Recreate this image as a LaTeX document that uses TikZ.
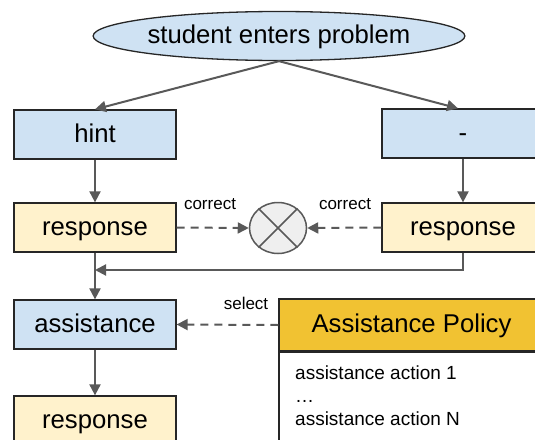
\documentclass[tikz,border=0pt]{standalone}
\usepackage{fontspec}
\setmainfont{Liberation Sans}
\usetikzlibrary{shapes.geometric,arrows.meta,calc}
\definecolor{boxblue}{HTML}{CFE2F3}
\definecolor{boxyellow}{HTML}{FFF2CC}
\definecolor{policygold}{HTML}{F1C232}
\definecolor{linegray}{HTML}{595959}
\definecolor{opfill}{HTML}{EFEFEF}
\tikzset{
  big/.style={font=\fontsize{25.7}{30}\selectfont, text height=20pt, text depth=5pt},
  small/.style={font=\fontsize{17}{20}\selectfont},
  stepbox/.style={draw=black!85, line width=1.3pt, rectangle, big,
    minimum width=162pt, minimum height=49pt, inner sep=0pt},
  bluebox/.style={stepbox, fill=boxblue},
  yellowbox/.style={stepbox, fill=boxyellow},
  flow/.style={draw=linegray, line width=2pt,
    -{Triangle[length=11pt,width=11pt]}},
  dashflow/.style={flow, dash pattern=on 8pt off 6pt},
}
\begin{document}
\begin{tikzpicture}[x=1pt,y=-1pt]
\clip (0,0) rectangle (535,439);
\fill[white] (0,0) rectangle (535,439);

% start of the episode
\node[ellipse, draw=black!85, line width=1.3pt, fill=boxblue, big,
  minimum width=370pt, minimum height=49pt, inner sep=0pt]
  (start) at (279,36) {student enters problem};

% two branches
\node[bluebox] (hint) at (95,134.5) {hint};
\node[bluebox] (none) at (463,133.5) {-};
\node[yellowbox] (resp1) at (95,227.5) {response};
\node[yellowbox] (resp2) at (463,227.5) {response};

% comparison of the two responses
\node[ellipse, draw=linegray, line width=1.5pt, fill=opfill,
  minimum width=57pt, minimum height=51pt, inner sep=0pt]
  (cmp) at (278,228) {};
\draw[linegray, line width=1.5pt] (cmp.45) -- (cmp.225) (cmp.135) -- (cmp.315);

% assistance step
\node[bluebox] (assist) at (95,324.5) {assistance};
\node[yellowbox] (resp3) at (95,420.5) {response};

% policy table
\node[draw=black!85, line width=1.3pt, fill=policygold, big,
  minimum width=265pt, minimum height=52pt, inner sep=0pt]
  (policy) at (411.5,325) {Assistance Policy};
\node[draw=black!85, line width=1.3pt, fill=white,
  minimum width=265pt, minimum height=110pt, inner sep=0pt, anchor=north]
  (pbox) at (policy.south) {};
\node[anchor=north west, align=left, inner sep=0pt,
  font=\fontsize{19}{22.8}\selectfont]
  (pbody) at (295,365.5) {assistance action 1\\…\\assistance action N};

% connectors
\draw[flow] (start.south) -- (hint.north);
\draw[flow] (start.south) -- ($(none.north)+(-5,0)$);
\draw[flow] (hint.south) -- (resp1.north);
\draw[flow] (none.south) -- (resp2.north);
\draw[dashflow] (resp1.east) -- (cmp.west);
\draw[dashflow] (resp2.west) -- (cmp.east);
\coordinate (join) at (resp1.south |- 0,270);
\draw[flow] (resp2.south) |- (join);
\draw[flow] (resp1.south) -- (assist.north);
\draw[dashflow] (policy.west) -- (assist.east);
\draw[flow] (assist.south) -- (resp3.north);

% edge labels
\node[small] (lcorrect1) at (210,204) {correct};
\node[small] (lcorrect2) at (345,204) {correct};
\node[small] (lselect) at (246,303) {select};
\end{tikzpicture}
\end{document}
